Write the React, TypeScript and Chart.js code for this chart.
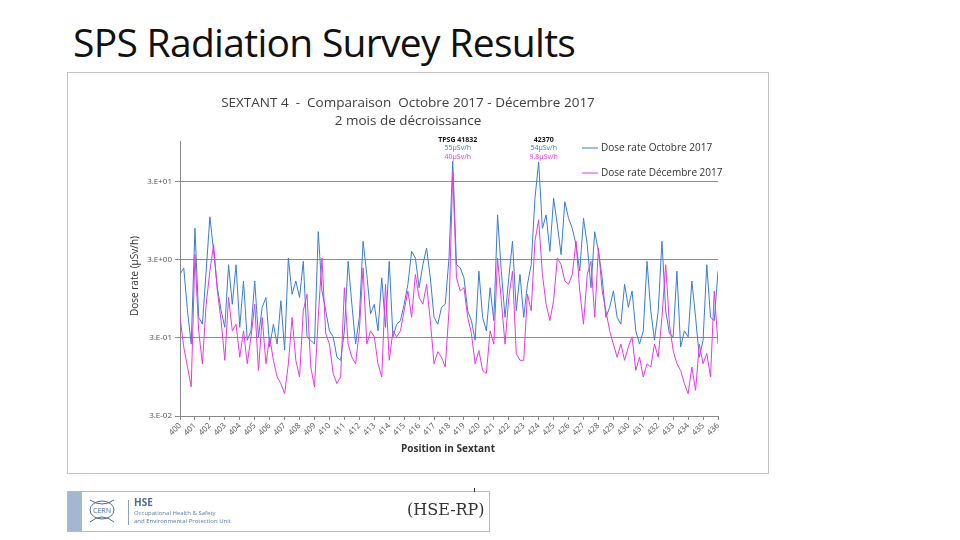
import React, { useEffect, useRef } from "react";
import { Chart, registerables } from "chart.js";

Chart.register(...registerables);

// positions along the sextant, one sample every quarter of a position
const xStart = 400;
const xEnd = 436;
const xStep = 0.25;

// dose rate in µSv/h (4 samples per position)
const doseOctobre: number[] = [
  1.95, 2.37, 0.67, 0.25, // 400
  7.6, 0.55, 0.45, 2.15, // 401
  10.7, 3.85, 1.32, 0.67, // 402
  0.41, 2.6, 0.81, 2.6, // 403
  0.41, 1.61, 0.28, 0.37, // 404
  1.61, 0.31, 0.74, 0.99, // 405
  0.23, 0.45, 0.25, 0.9, // 406
  0.21, 3.17, 1.09, 1.61, // 407
  0.99, 2.88, 0.31, 0.28, // 408
  0.25, 6.9, 1.2, 0.67, // 409
  0.37, 0.31, 0.17, 0.155, // 410
  0.37, 2.88, 0.81, 0.25, // 411
  0.55, 5.2, 1.95, 0.61, // 412
  0.81, 0.37, 1.77, 0.41, // 413
  2.88, 0.31, 0.45, 0.5, // 414
  0.81, 1.46, 3.85, 3.17, // 415
  1.32, 2.6, 4.25, 1.77, // 416
  0.55, 0.45, 0.74, 0.81, // 417
  3.17, 55, 2.6, 2.37, // 418
  1.77, 0.67, 0.5, 0.28, // 419
  2.15, 0.55, 0.37, 1.32, // 420
  0.5, 11.3, 2.15, 0.55, // 421
  1.77, 5.2, 0.67, 1.95, // 422
  0.55, 1.46, 2.6, 18.4, // 423
  54, 7.6, 11.3, 3.85, // 424
  18.4, 8.4, 3.5, 16.7, // 425
  10.2, 7.6, 4.7, 2.15, // 426
  10.2, 4.7, 1.32, 6.9, // 427
  3.85, 1.77, 0.55, 0.74, // 428
  1.2, 0.55, 0.45, 1.46, // 429
  0.74, 1.2, 0.37, 0.25, // 430
  0.37, 2.88, 0.67, 0.28, // 431
  0.67, 5.2, 0.67, 0.34, // 432
  0.31, 2.15, 0.23, 0.37, // 433
  0.31, 1.61, 0.55, 0.17, // 434
  0.28, 2.6, 0.55, 0.5, // 435
  2.15, // 436
];

const doseDecembre: number[] = [
  0.55, 0.23, 0.127, 0.071, // 400
  3.5, 0.37, 0.14, 0.81, // 401
  2.15, 4.7, 1.2, 0.5, // 402
  0.155, 0.99, 0.37, 0.45, // 403
  0.17, 0.37, 0.14, 0.31, // 404
  0.81, 0.115, 0.55, 0.14, // 405
  0.31, 0.155, 0.095, 0.078, // 406
  0.058, 0.14, 0.55, 0.155, // 407
  0.095, 0.67, 1.09, 0.127, // 408
  0.071, 0.55, 3.17, 0.34, // 409
  0.25, 0.105, 0.078, 0.095, // 410
  1.32, 0.25, 0.17, 0.14, // 411
  0.37, 2.37, 0.25, 0.37, // 412
  0.31, 0.14, 0.095, 1.46, // 413
  0.155, 0.37, 0.31, 0.37, // 414
  0.67, 1.2, 0.55, 1.95, // 415
  0.99, 0.81, 1.46, 0.5, // 416
  0.14, 0.2, 0.17, 0.127, // 417
  0.67, 40, 1.77, 1.2, // 418
  1.32, 0.55, 0.34, 0.14, // 419
  0.207, 0.115, 0.105, 0.37, // 420
  0.25, 3.17, 0.9, 0.25, // 421
  0.99, 2.15, 0.19, 0.155, // 422
  0.155, 1.09, 0.67, 5.2, // 423
  9.8, 1.95, 0.81, 0.5, // 424
  0.9, 3.17, 2.6, 1.61, // 425
  1.46, 1.95, 5.2, 1.2, // 426
  0.45, 1.95, 2.88, 0.55, // 427
  4.25, 1.2, 0.67, 0.37, // 428
  0.25, 0.17, 0.25, 0.155, // 429
  0.23, 0.31, 0.115, 0.17, // 430
  0.095, 0.14, 0.127, 0.25, // 431
  0.17, 0.55, 2.6, 0.45, // 432
  0.207, 0.14, 0.115, 0.078, // 433
  0.058, 0.127, 0.064, 0.25, // 434
  0.14, 0.19, 0.095, 1.2, // 435
  0.25, // 436
];

const seriesNames = ["Dose rate Octobre 2017", "Dose rate Décembre 2017"];
const seriesColors = ["#3b7dd0", "#e23be2"];

const yTickValues = [0.03, 0.3, 3, 30];
const yTickLabels = ["3.E-02", "3.E-01", "3.E+00", "3.E+01"];

const peakPositions = [418.25, 424];
const peakNames = ["TPSG 41832", "42370"];
const peakOctobre = ["55µSv/h", "54µSv/h"];
const peakDecembre = ["40µSv/h", "9.8µSv/h"];

const FONT = "'Open Sans', 'Noto Sans', sans-serif";

const overlayPlugin = {
  id: "overlay",
  afterDatasetsDraw(chart: any) {
    const { ctx, chartArea, scales } = chart;
    ctx.save();
    // peak annotations
    ctx.textAlign = "center";
    ctx.textBaseline = "middle";
    peakPositions.forEach((p, i) => {
      const x = scales.x.getPixelForValue(p) + 5;
      ctx.font = `bold 7px ${FONT}`;
      ctx.fillStyle = "#111";
      ctx.fillText(peakNames[i], x, chartArea.top - 1);
      ctx.font = `7px ${FONT}`;
      ctx.fillStyle = seriesColors[0];
      ctx.fillText(peakOctobre[i], x, chartArea.top + 7);
      ctx.fillStyle = seriesColors[1];
      ctx.fillText(peakDecembre[i], x, chartArea.top + 16);
    });
    // legend, inside the plot area on the right
    ctx.textAlign = "left";
    ctx.font = `10px ${FONT}`;
    seriesNames.forEach((name, i) => {
      const y = chartArea.top + 7 + i * 25;
      const x0 = chartArea.right - 136;
      ctx.strokeStyle = seriesColors[i];
      ctx.lineWidth = 1;
      ctx.beginPath();
      ctx.moveTo(x0, y);
      ctx.lineTo(x0 + 16, y);
      ctx.stroke();
      ctx.fillStyle = "#333";
      ctx.fillText(name, x0 + 19, y);
    });
    ctx.restore();
  },
};

function SurveyChart() {
  const canvasRef = useRef<HTMLCanvasElement>(null);

  useEffect(() => {
    if (!canvasRef.current) return;
    const toPoints = (vals: number[]) =>
      vals.map((y, i) => ({ x: xStart + i * xStep, y }));

    const chart = new Chart(canvasRef.current, {
      type: "line",
      data: {
        datasets: [
          {
            label: seriesNames[0],
            data: toPoints(doseOctobre),
            borderColor: seriesColors[0],
            borderWidth: 1,
            pointRadius: 0,
            tension: 0,
            order: 2,
          },
          {
            label: seriesNames[1],
            data: toPoints(doseDecembre),
            borderColor: seriesColors[1],
            borderWidth: 1,
            pointRadius: 0,
            tension: 0,
            order: 1,
          },
        ],
      },
      options: {
        animation: false,
        responsive: false,
        layout: { padding: { top: 67, right: 51, left: 0, bottom: 0 } },
        plugins: {
          legend: { display: false },
          tooltip: { enabled: false },
        },
        scales: {
          x: {
            type: "linear",
            min: xStart,
            max: xEnd,
            ticks: {
              stepSize: 1,
              autoSkip: false,
              minRotation: 45,
              maxRotation: 45,
              color: "#555",
              font: { size: 8, family: FONT },
              padding: 1,
              callback: (v: any) => String(v),
            },
            grid: { drawOnChartArea: false, tickLength: 4, color: "#888" },
            border: { color: "#888" },
            afterFit: (s: any) => {
              s.height = 58;
            },
          },
          y: {
            type: "logarithmic",
            min: 0.03,
            max: 100,
            afterBuildTicks: (s: any) => {
              s.ticks = yTickValues.map((v) => ({ value: v }));
            },
            ticks: {
              color: "#555",
              font: { size: 8, family: FONT },
              padding: 3,
              callback: (v: any) => {
                const i = yTickValues.findIndex((t) => Math.abs(t - v) < 1e-9);
                return i >= 0 ? yTickLabels[i] : "";
              },
            },
            grid: { color: "#8c8c8c", tickLength: 5 },
            border: { color: "#888" },
            afterFit: (s: any) => {
              s.width = 111;
            },
          },
        },
      },
      plugins: [overlayPlugin],
    });

    return () => {
      chart.destroy();
    };
  }, []);

  return (
    <canvas
      ref={canvasRef}
      width={700}
      height={400}
      style={{ position: "absolute", left: 1, top: 1 }}
    />
  );
}

export default function App() {
  return (
    <div
      style={{
        position: "absolute",
        left: 0,
        top: 0,
        width: 960,
        height: 540,
        background: "#fff",
        fontFamily: FONT,
        overflow: "hidden",
      }}
    >
      <div
        style={{
          position: "absolute",
          left: 73,
          top: 15,
          fontSize: 39,
          letterSpacing: -0.7,
          color: "#111",
          whiteSpace: "nowrap",
        }}
      >
        SPS Radiation Survey Results
      </div>

      <div
        style={{
          position: "absolute",
          left: 67,
          top: 72,
          width: 702,
          height: 402,
          border: "1px solid #c4c4c4",
          boxSizing: "border-box",
          background: "#fff",
        }}
      >
        <SurveyChart />
        <div
          style={{
            position: "absolute",
            left: 0,
            width: 680,
            top: 20,
            textAlign: "center",
            fontSize: 13.5,
            lineHeight: "18px",
            color: "#404040",
            whiteSpace: "pre",
          }}
        >
          {"SEXTANT 4  -  Comparaison  Octobre 2017 - Décembre 2017\n2 mois de décroissance"}
        </div>
        <div
          style={{
            position: "absolute",
            left: 66,
            top: 203,
            transform: "translate(-50%, -50%) rotate(-90deg)",
            fontSize: 10,
            color: "#333",
            whiteSpace: "nowrap",
          }}
        >
          Dose rate (µSv/h)
        </div>
        <div
          style={{
            position: "absolute",
            left: 380,
            top: 368,
            transform: "translateX(-50%)",
            fontSize: 10,
            fontWeight: "bold",
            color: "#333",
            whiteSpace: "nowrap",
          }}
        >
          Position in Sextant
        </div>
      </div>

      {/* footer logo strip */}
      <div
        style={{
          position: "absolute",
          left: 67,
          top: 491,
          width: 423,
          height: 41,
          border: "1px solid #b5bcc6",
          boxSizing: "border-box",
          background: "#fff",
        }}
      >
        <div
          style={{
            position: "absolute",
            left: 0,
            top: 0,
            width: 14,
            height: 39,
            background: "#a2b8d2",
          }}
        />
        <svg
          width={34}
          height={30}
          style={{ position: "absolute", left: 18, top: 4 }}
        >
          <ellipse cx={16} cy={14} rx={12} ry={9} fill="none" stroke="#4b6b97" strokeWidth={1} />
          <path d="M4 4 Q16 12 28 4 M4 26 Q16 16 28 26" fill="none" stroke="#4b6b97" strokeWidth={1} />
          <text x={16} y={17} fontSize={7} textAnchor="middle" fill="#4b6b97" fontFamily={FONT}>
            CERN
          </text>
        </svg>
        <div
          style={{
            position: "absolute",
            left: 60,
            top: 8,
            width: 1,
            height: 25,
            background: "#8fa2b8",
          }}
        />
        <div
          style={{
            position: "absolute",
            left: 66,
            top: 5,
            fontSize: 10,
            fontWeight: "bold",
            color: "#4b6b97",
            lineHeight: "11px",
          }}
        >
          HSE
        </div>
        <div
          style={{
            position: "absolute",
            left: 66,
            top: 17,
            fontSize: 6,
            lineHeight: "8px",
            color: "#5c7aa0",
            whiteSpace: "pre",
          }}
        >
          {"Occupational Health & Safety\nand Environmental Protection Unit"}
        </div>
        <div
          style={{
            position: "absolute",
            left: 339,
            top: 8,
            fontSize: 16,
            fontFamily: "'DejaVu Serif', 'Liberation Serif', serif",
            color: "#333",
            whiteSpace: "nowrap",
          }}
        >
          (HSE-RP)
        </div>
      </div>
      <div
        style={{
          position: "absolute",
          left: 474,
          top: 488,
          width: 1,
          height: 4,
          background: "#333",
        }}
      />
    </div>
  );
}
